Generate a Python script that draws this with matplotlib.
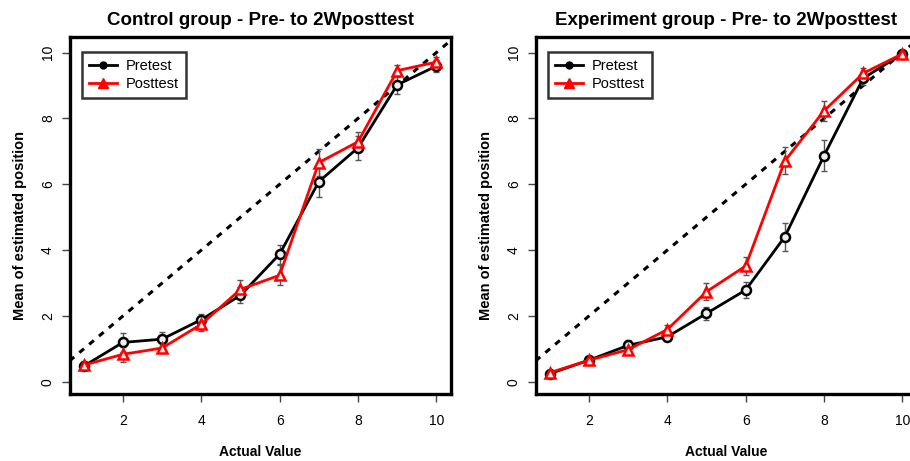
import matplotlib
matplotlib.use("Agg")
import matplotlib.pyplot as plt
from matplotlib.lines import Line2D

plt.rcParams['font.family'] = ['Liberation Sans', 'DejaVu Sans']

x = [1, 2, 3, 4, 5, 6, 7, 8, 9, 10]

# control group
ctrl_pre = [0.48, 1.20, 1.30, 1.89, 2.63, 3.88, 6.08, 7.11, 9.02, 9.59]
ctrl_pre_err = [0.12, 0.28, 0.23, 0.18, 0.24, 0.29, 0.46, 0.36, 0.28, 0.18]
ctrl_post = [0.51, 0.84, 1.03, 1.75, 2.81, 3.24, 6.66, 7.29, 9.45, 9.71]
ctrl_post_err = [0.12, 0.23, 0.14, 0.19, 0.27, 0.30, 0.40, 0.30, 0.18, 0.15]

# experiment group
exp_pre = [0.25, 0.66, 1.11, 1.37, 2.08, 2.79, 4.41, 6.87, 9.22, 9.96]
exp_pre_err = [0.05, 0.06, 0.15, 0.10, 0.20, 0.25, 0.42, 0.47, 0.20, 0.05]
exp_post = [0.28, 0.66, 0.98, 1.59, 2.74, 3.52, 6.71, 8.23, 9.37, 9.96]
exp_post_err = [0.05, 0.06, 0.10, 0.13, 0.25, 0.28, 0.41, 0.30, 0.17, 0.05]

titles = ["Control group - Pre- to 2Wposttest", "Experiment group - Pre- to 2Wposttest"]
xticks = [2, 4, 6, 8, 10]
yticks = [0, 2, 4, 6, 8, 10]


def panel(ax, pre, pre_err, post, post_err, title):
    ax.axline((0, 0), slope=1, color='black', lw=2.2, ls=(0, (2, 2.2)), zorder=1)
    ax.errorbar(x, pre, yerr=pre_err, fmt='none', ecolor='#555555', elinewidth=1,
                capsize=2.5, capthick=1, zorder=2)
    ax.errorbar(x, post, yerr=post_err, fmt='none', ecolor='#555555', elinewidth=1,
                capsize=2.5, capthick=1, zorder=2)
    ax.plot(x, pre, color='black', lw=2, marker='o', ms=6.5, mfc='#eeeeee',
            mec='black', mew=1.8, zorder=3)
    ax.plot(x, post, color='red', lw=2, marker='^', ms=7.5, mfc='#ffeeee',
            mec='red', mew=1.8, zorder=4)

    ax.set_xlim(0.64, 10.36)
    ax.set_ylim(-0.35, 10.47)
    ax.set_xticks(xticks)
    ax.set_yticks(yticks)
    ax.set_xticklabels([str(v) for v in xticks], fontsize=10)
    ax.set_yticklabels([str(v) for v in yticks], fontsize=10, rotation=90, va='center')
    ax.tick_params(direction='out', length=6, width=1, color='#444444')
    ax.tick_params(axis='x', pad=9)
    ax.tick_params(axis='y', pad=4.5)
    for s in ax.spines.values():
        s.set_linewidth(2.4)

    ax.set_title(title, fontsize=13.5, fontweight='bold', pad=9)
    ax.set_xlabel('Actual Value', fontsize=10, fontweight='bold', va='center')
    ax.xaxis.set_label_coords(0.5, -0.164)
    ax.set_ylabel('Mean of estimated position', fontsize=10.5, fontweight='bold', va='center')
    ax.yaxis.set_label_coords(-0.13, 0.47)

    handles = [
        Line2D([], [], color='black', lw=2, marker='o', ms=5),
        Line2D([], [], color='red', lw=2, marker='^', ms=7),
    ]
    leg = ax.legend(handles, ['Pretest', 'Posttest'], loc='upper left',
                    bbox_to_anchor=(0.033, 0.958), borderaxespad=0, fontsize=10.5,
                    frameon=True, fancybox=False, edgecolor='black',
                    handlelength=1.9, borderpad=0.5, labelspacing=0.25,
                    handletextpad=0.6)
    leg.get_frame().set_linewidth(1.8)


fig = plt.figure(figsize=(9.1, 4.61), dpi=100)
ax1 = fig.add_axes([0.0764, 0.1464, 0.4187, 0.7733])
ax2 = fig.add_axes([0.5885, 0.1464, 0.4187, 0.7733])

panel(ax1, ctrl_pre, ctrl_pre_err, ctrl_post, ctrl_post_err, titles[0])
panel(ax2, exp_pre, exp_pre_err, exp_post, exp_post_err, titles[1])

fig.savefig('out.png', dpi=100)
